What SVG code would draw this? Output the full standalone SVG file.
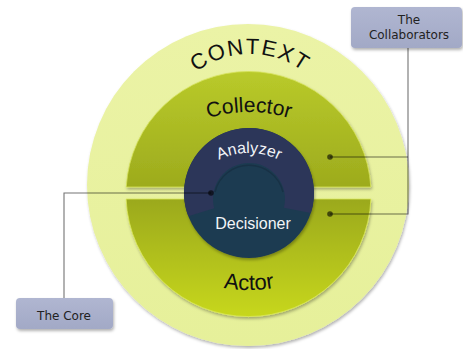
<svg xmlns="http://www.w3.org/2000/svg" width="463" height="349" viewBox="0 0 463 349">
  <defs>
    <style>
      .ring-label { font-family: "Liberation Sans", Arial, sans-serif; fill: #111; }
      .core-label { font-family: "Liberation Sans", Arial, sans-serif; fill: #f2f4f8; }
      .box { fill: url(#boxGrad); filter: url(#shadow); }
      .box-text { font-family: "DejaVu Sans", Verdana, sans-serif; font-size: 12px; fill: #222; text-anchor: middle; }
      .conn { fill: none; stroke: #000; stroke-opacity: 0.55; stroke-width: 1.1; }
      .dot { fill: #000; fill-opacity: 0.6; }
    </style>
    <filter id="shadow" x="-10%" y="-10%" width="130%" height="130%">
      <feDropShadow dx="1" dy="2" stdDeviation="1.5" flood-color="#000" flood-opacity="0.3"/>
    </filter>
    <linearGradient id="outerGrad" x1="0" y1="0" x2="0" y2="1">
      <stop offset="0" stop-color="#ebf3a6"/>
      <stop offset="1" stop-color="#e6f09a"/>
    </linearGradient>
    <linearGradient id="collGrad" x1="0" y1="0" x2="0" y2="1">
      <stop offset="0" stop-color="#b9ca2a"/>
      <stop offset="1" stop-color="#9dab1d"/>
    </linearGradient>
    <linearGradient id="actGrad" x1="0" y1="0" x2="0" y2="1">
      <stop offset="0" stop-color="#9ba91c"/>
      <stop offset="1" stop-color="#c7d71d"/>
    </linearGradient>
    <linearGradient id="boxGrad" x1="0" y1="0" x2="0" y2="1">
      <stop offset="0" stop-color="#b0b6d1"/>
      <stop offset="1" stop-color="#a2a9c6"/>
    </linearGradient>
    <path id="ctxPath" d="M160,144 A90,90 0 0 1 340,144"/>
    <path id="colPath" d="M109,252 A140,140 0 0 1 389,252"/>
    <path id="actPath" d="M99,140 A150,150 0 0 0 399,140"/>
    <path id="anaPath" d="M179,223 A70,70 0 0 1 319,223"/>
  </defs>

  <g id="context">
    <circle cx="248" cy="185" r="161" fill="url(#outerGrad)" filter="url(#shadow)"/>
    <text class="ring-label" font-size="22" letter-spacing="1.5"><textPath href="#ctxPath" startOffset="50%" text-anchor="middle">CONTEXT</textPath></text>
  </g>

  <g id="collector">
    <path d="M126.2,187 A122.5,122.5 0 0 1 370.8,187 Z" fill="url(#collGrad)" stroke="#d6e25a" stroke-width="0.8" filter="url(#shadow)"/>
    <text class="ring-label" font-size="21"><textPath href="#colPath" startOffset="50%" text-anchor="middle">Collector</textPath></text>
  </g>

  <g id="actor">
    <path d="M370.9,199 A122.5,122.5 0 0 1 126.1,199 Z" fill="url(#actGrad)" stroke="#dbe85a" stroke-width="0.8" filter="url(#shadow)"/>
    <text class="ring-label" font-size="22"><textPath href="#actPath" startOffset="50%" text-anchor="middle">Actor</textPath></text>
  </g>

  <g id="core">
    <g id="decisioner">
      <circle cx="249" cy="193" r="65" fill="#1f3b51" filter="url(#shadow)"/>
      <path d="M215,192 A35,35 0 0 1 283,192" fill="none" stroke="#13283a" stroke-width="1.5" stroke-opacity="0.5"/>
      <text class="core-label" x="253" y="229" font-size="16" text-anchor="middle">Decisioner</text>
    </g>
    <g id="analyzer">
      <path d="M188.3,216.3 A65,65 0 1 1 310.8,213.1 L283.9,207.7 A36,36 0 1 0 214.2,208.3 Z" fill="#2c3659"/>
      <text class="core-label" font-size="16"><textPath href="#anaPath" startOffset="50%" text-anchor="middle">Analyzer</textPath></text>
    </g>
  </g>

  <g id="connectors">
    <polyline class="conn" points="64,298 64,193 211,193"/>
    <polyline class="conn" points="408,48 408,214 330,214"/>
    <line class="conn" x1="408" y1="157" x2="330" y2="157"/>
    <circle class="dot" cx="211" cy="193" r="2.8"/>
    <circle class="dot" cx="330" cy="157" r="2.8"/>
    <circle class="dot" cx="330" cy="214" r="2.8"/>
  </g>

  <g id="label-collaborators">
    <rect class="box" x="351" y="7" width="111" height="41" rx="4"/>
    <text class="box-text" x="409" y="24">The</text>
    <text class="box-text" x="409" y="39">Collaborators</text>
  </g>

  <g id="label-core">
    <rect class="box" x="16" y="298" width="97" height="31" rx="4"/>
    <text class="box-text" x="64" y="320">The Core</text>
  </g>
</svg>
